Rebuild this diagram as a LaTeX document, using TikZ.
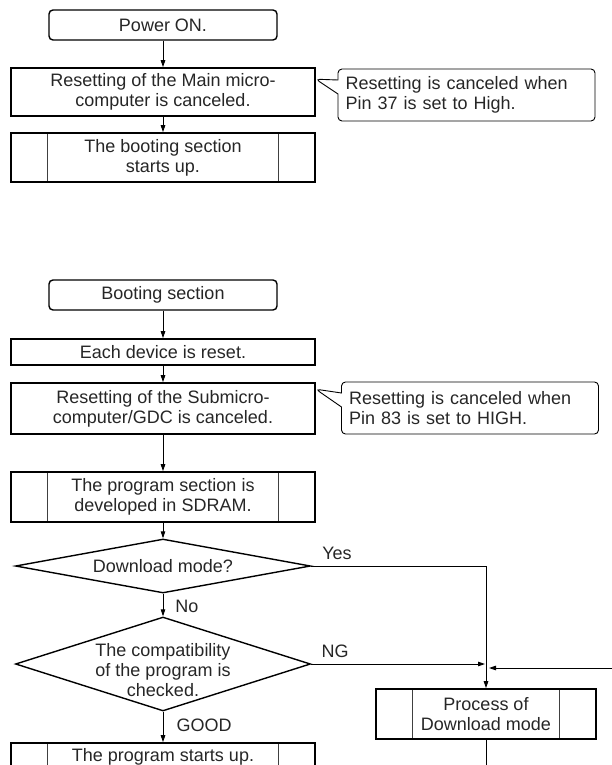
\documentclass[tikz,border=0pt]{standalone}
\usepackage{fontspec}
\setmainfont{Liberation Sans}
\usetikzlibrary{arrows.meta,shapes.geometric,shapes.callouts}

\begin{document}
\begin{tikzpicture}[x=1pt, y=-1pt, >={Triangle[length=7pt,width=4.5pt]},
        every node/.style={font=\fontsize{18}{20}\selectfont, text=black!85},
        termbox/.style={draw, line width=1.4pt, rounded corners=4pt, minimum width=228pt, minimum height=30pt, inner sep=0pt},
        procbox/.style={draw, line width=1.6pt, minimum width=304pt, inner sep=0pt, align=center},
        subproc/.style={procbox, path picture={
            \draw[line width=0.9pt, black!75]
              ([xshift=36pt]path picture bounding box.north west) -- ([xshift=36pt]path picture bounding box.south west)
              ([xshift=-37pt]path picture bounding box.north east) -- ([xshift=-37pt]path picture bounding box.south east);}},
        decision/.style={draw, diamond, line width=1.4pt, inner sep=0pt, minimum width=295pt},
        notebox/.style={rectangle callout, draw, line width=0.9pt, rounded corners=4pt, callout pointer width=14pt,
            text width=242pt, align=left, inner xsep=7.5pt, inner ysep=0pt, minimum height=52pt},
        flow/.style={->, line width=0.9pt}]

    \useasboundingbox (0,0) rectangle (612,765);
    \clip (0,0) rectangle (612,765);

    % Start-up
    \node[termbox] (power) at (163,25) {Power ON.};
    \node[procbox, minimum height=48pt] (mainreset) at (163,92) {Resetting of the Main micro-\\computer is canceled.};
    \node[subproc, minimum height=49pt] (bootup) at (163,157.5) {The booting section\\starts up.};
    \coordinate (tip1) at ([yshift=-12pt]mainreset.north east);
    \node[notebox, callout absolute pointer=(tip1)] (note1) at (466.5,95) {Resetting is canceled when\\Pin 37 is set to High.};

    % Booting section
    \node[termbox] (bootsec) at (163,295) {Booting section};
    \node[procbox, minimum height=26pt] (devreset) at (163,352) {Each device is reset.};
    \node[procbox, minimum height=51pt] (subreset) at (163,408.5) {Resetting of the Submicro-\\computer/GDC is canceled.};
    \coordinate (tip2) at ([yshift=-7pt]subreset.north east);
    \node[notebox, callout absolute pointer=(tip2)] (note2) at (470,408) {Resetting is canceled when\\Pin 83 is set to HIGH.};
    \node[subproc, minimum height=50pt] (develop) at (163,497) {The program section is\\developed in SDRAM.};
    \node[decision, aspect=5.46, minimum height=54pt] (dlmode) at (163,566) {Download mode?};
    \node[decision, aspect=3.14, minimum height=94pt,
        label={[align=center, yshift=-6pt]center:The compatibility\\of the program is\\checked.}] (compat) at (163,664) {};
    \node[subproc, minimum height=50pt] (progstart) at (163,768) {The program starts up.\\\strut};
    \node[subproc, minimum width=220pt, minimum height=50pt] (dlproc) at (486,714) {Process of\\Download mode};

    % Labels
    \node (yes) at (337,553) {Yes};
    \node (no) at (187,606) {No};
    \node (ng) at (335,651) {NG};
    \node (good) at (204,725) {GOOD};

    % Connectors
    \draw[flow] (power) -- (mainreset);
    \draw[flow] (mainreset) -- (bootup);
    \draw[flow] (bootsec) -- (devreset);
    \draw[flow] (devreset) -- (subreset);
    \draw[flow] (subreset) -- (develop);
    \draw[flow] (develop) -- (dlmode);
    \draw[flow] (dlmode) -- (compat);
    \draw[flow] (compat) -- (progstart);
    \draw[flow] (dlmode.east) -| (dlproc.north);
    \draw[flow, shorten >=1pt] (compat.east) -- (compat.east -| dlproc.north);
    \coordinate (back) at (612,668);
    \draw[flow, shorten >=3pt] (back) -- (back -| dlproc.north);
    \coordinate (dlout) at (486,770);
    \draw[line width=0.9pt] (dlproc.south) -- (dlout);
\end{tikzpicture}
\end{document}
